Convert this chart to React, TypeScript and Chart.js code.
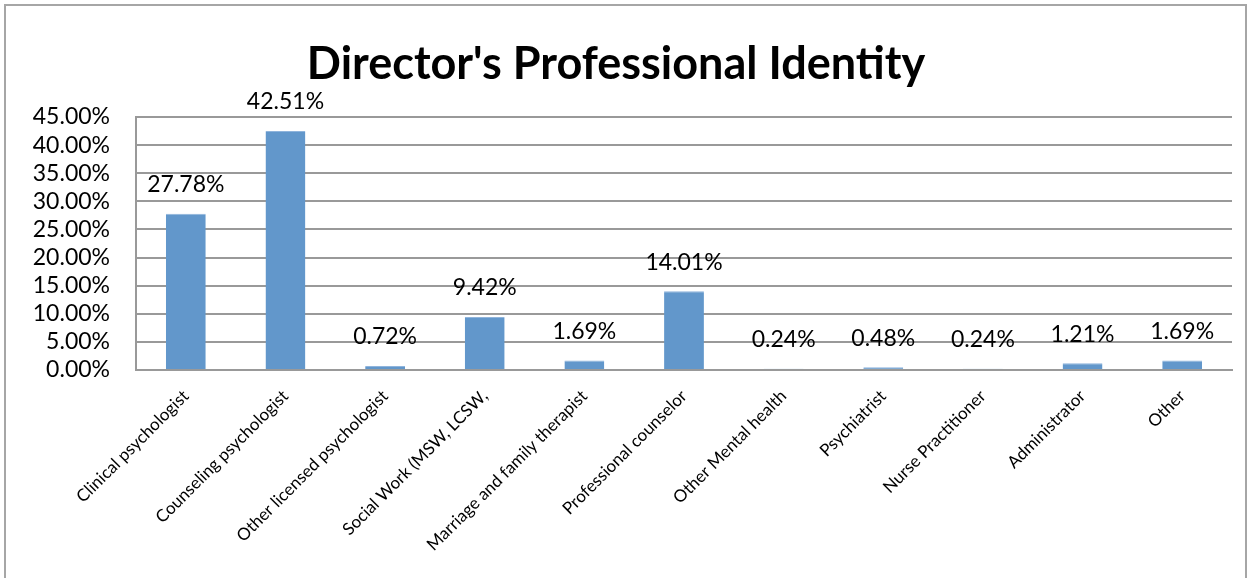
import React, { useEffect, useRef } from "react";
import { Chart, registerables } from "chart.js";
Chart.register(...registerables);

const categories = [
  "Clinical psychologist",
  "Counseling psychologist",
  "Other licensed psychologist",
  "Social Work (MSW, LCSW,",
  "Marriage and family therapist",
  "Professional counselor",
  "Other Mental health",
  "Psychiatrist",
  "Nurse Practitioner",
  "Administrator",
  "Other",
];
const percentages = [27.78, 42.51, 0.72, 9.42, 1.69, 14.01, 0.24, 0.48, 0.24, 1.21, 1.69];
const titleText = "Director's Professional Identity";
const FONT = "Lato, 'Open Sans', sans-serif";

const labelPlugin = {
  id: "barLabels",
  afterDatasetsDraw(chart: any) {
    const ctx = chart.ctx;
    const meta = chart.getDatasetMeta(0);
    ctx.save();
    ctx.font = `23px ${FONT}`;
    ctx.fillStyle = "#000";
    ctx.textAlign = "center";
    ctx.textBaseline = "middle";
    meta.data.forEach((bar: any, i: number) => {
      ctx.fillText(percentages[i].toFixed(2) + "%", bar.x, bar.y - 29);
    });
    ctx.restore();
  },
};

export default function App() {
  const ref = useRef<HTMLCanvasElement>(null);
  useEffect(() => {
    document.body.style.margin = "0";
    const chart = new Chart(ref.current!, {
      type: "bar",
      data: {
        labels: categories,
        datasets: [
          {
            data: percentages,
            backgroundColor: "#6297cb",
            borderColor: "#8fb4dc",
            borderWidth: { top: 1, left: 0, right: 0, bottom: 0 } as any,
            categoryPercentage: 1,
            barPercentage: 0.4,
          },
        ],
      },
      options: {
        animation: false,
        responsive: false,
        layout: { padding: { left: 0, right: 21, top: 0, bottom: 0 } },
        plugins: {
          legend: { display: false },
          tooltip: { enabled: false },
          title: {
            display: true,
            text: titleText,
            color: "#000",
            font: { family: FONT, size: 45, weight: "bold" },
            padding: { top: 37, bottom: 26 },
          },
        },
        scales: {
          x: {
            grid: { display: false, drawTicks: false },
            border: { color: "#999", width: 2 },
            ticks: {
              color: "#000",
              font: { family: FONT, size: 17 },
              minRotation: 45,
              maxRotation: 45,
              autoSkip: false,
              padding: 16,
            },
            afterFit(scale: any) {
              scale.height = 208;
            },
          },
          y: {
            min: 0,
            max: 45,
            grid: { color: "#999", lineWidth: 2, drawTicks: false },
            border: { color: "#999", width: 2 },
            ticks: {
              stepSize: 5,
              autoSkip: false,
              color: "#000",
              padding: 26,
              font: { family: FONT, size: 23, lineHeight: 1 },
              callback: (v: any) => Number(v).toFixed(2) + "%",
            },
            afterFit(scale: any) {
              scale.width = 136;
            },
          },
        },
      },
      plugins: [labelPlugin],
    });
    return () => chart.destroy();
  }, []);
  return (
    <div style={{ position: "relative", width: 1253, height: 578, overflow: "hidden", background: "#fff" }}>
      <div
        style={{
          position: "absolute",
          left: 4,
          top: 4,
          width: 1243,
          height: 620,
          border: "2px solid #a6a6a6",
          boxSizing: "border-box",
        }}
      />
      <canvas ref={ref} width={1253} height={578} style={{ position: "absolute", left: 0, top: 0 }} />
    </div>
  );
}
